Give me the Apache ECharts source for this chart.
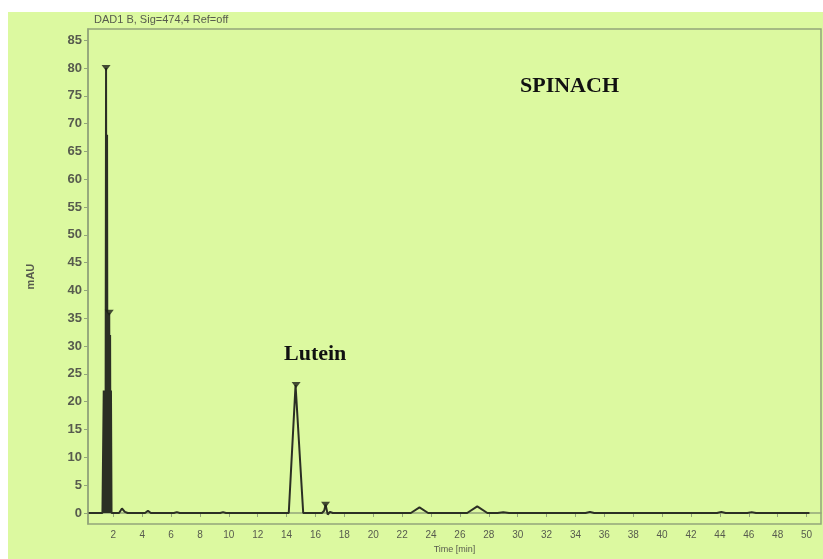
<!DOCTYPE html>
<html>
<head>
<meta charset="utf-8">
<script src="https://cdn.jsdelivr.net/npm/echarts@6/dist/echarts.min.js"></script>
<style>
  html, body { margin: 0; padding: 0; background: #ffffff; }
  #chart { position: absolute; left: 8px; top: 12px; width: 815px; height: 547px; background: #dcf9a0; }
</style>
</head>
<body>
<div id="chart"></div>
<script>
// Chromatogram trace: retention time (min) vs absorbance (mAU)
const traceTime = [0.3, 1.25, 1.3, 1.34, 1.38, 1.42, 1.46, 1.5, 1.54, 1.57, 1.6, 1.63, 1.66, 1.72, 1.75, 1.78, 1.81, 1.84, 1.88, 2.0,
  2.4, 2.6, 2.8, 3.0, 4.2, 4.4, 4.6, 6.2, 6.4, 6.6, 9.4, 9.6, 9.8,
  13.9, 14.15, 14.62, 14.7, 15.15, 15.4,
  16.45, 16.6, 16.7, 16.85, 17.0, 17.2,
  22.6, 23.2, 23.8, 26.5, 27.2, 27.9, 28.6, 29.0, 29.4,
  34.7, 35.0, 35.3, 43.8, 44.1, 44.4, 45.9, 46.2, 46.5, 50.2];
const traceValue = [0, 0, 0, 22, 0, 22, 0, 80, 0, 68, 0, 22, 0, 36, 0, 32, 0, 22, 0, 0,
  0, 0.8, 0.2, 0, 0, 0.4, 0, 0, 0.15, 0, 0, 0.15, 0,
  0, 0, 23, 23, 0, 0,
  0, 0.4, 1.5, -0.3, 0.2, 0,
  0, 1.0, 0, 0, 1.2, 0, 0, 0.15, 0,
  0, 0.2, 0, 0, 0.2, 0, 0, 0.15, 0, 0];

// Integrated peak apex markers
const peakTime = [1.5, 1.72, 14.66, 16.7];
const peakValue = [80, 36, 23, 1.5];

// Axis tick labels
const yTicks = [0, 5, 10, 15, 20, 25, 30, 35, 40, 45, 50, 55, 60, 65, 70, 75, 80, 85];
const xTicks = [2, 4, 6, 8, 10, 12, 14, 16, 18, 20, 22, 24, 26, 28, 30, 32, 34, 36, 38, 40, 42, 44, 46, 48, 50];

const chart = echarts.init(document.getElementById('chart'));
const axisColor = '#93a57a';
const labelColor = '#575b4e';

chart.setOption({
  animation: false,
  backgroundColor: '#dcf9a0',
  grid: { left: 80, top: 17, right: 2, bottom: 31, show: true, borderColor: axisColor, borderWidth: 1.5, backgroundColor: 'transparent' },
  xAxis: {
    type: 'value', min: 0.25, max: 51,
    name: 'Time [min]', nameLocation: 'middle', nameGap: 19,
    nameTextStyle: { color: labelColor, fontFamily: 'Liberation Sans', fontSize: 9 },
    axisLine: { show: true, lineStyle: { color: axisColor, width: 1.5 } },
    axisTick: { show: true, customValues: xTicks, length: 4, lineStyle: { color: axisColor } },
    axisLabel: { customValues: xTicks, color: labelColor, fontFamily: 'Liberation Sans', fontSize: 10, margin: 6 },
    splitLine: { show: false }
  },
  yAxis: {
    type: 'value', min: -2, max: 87,
    name: 'mAU', nameLocation: 'middle', nameGap: 52, nameRotate: 90,
    nameTextStyle: { color: labelColor, fontFamily: 'Liberation Sans', fontSize: 11, fontWeight: 'bold' },
    axisLine: { show: true, lineStyle: { color: axisColor, width: 1.5 } },
    axisTick: { show: true, customValues: yTicks, length: 4, lineStyle: { color: axisColor } },
    axisLabel: { customValues: yTicks, color: labelColor, fontFamily: 'Liberation Sans', fontSize: 13, fontWeight: 'bold', margin: 6 },
    splitLine: { show: false }
  },
  series: [
    {
      type: 'line',
      data: traceTime.map((t, i) => [t, traceValue[i]]),
      showSymbol: false,
      lineStyle: { color: '#2b2f24', width: 2 },
      z: 3
    },
    {
      type: 'scatter',
      data: peakTime.map((t, i) => [t, peakValue[i]]),
      symbol: 'triangle', symbolRotate: 180, symbolSize: [9, 6],
      itemStyle: { color: '#1c1f17' },
      z: 4
    }
  ],
  graphic: [
    { type: 'text', left: 86, top: 2, style: { text: 'DAD1 B, Sig=474,4 Ref=off', fill: '#575b4e', font: '11px "Liberation Sans"' } },
    { type: 'text', left: 512, top: 63, style: { text: 'SPINACH', fill: '#111111', font: 'bold 22px "Liberation Serif"' } },
    { type: 'text', left: 276, top: 331, style: { text: 'Lutein', fill: '#111111', font: 'bold 22px "Liberation Serif"' } }
  ]
});
</script>
</body>
</html>
